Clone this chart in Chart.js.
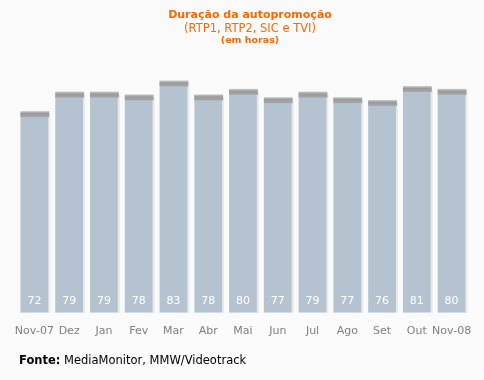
<!DOCTYPE html>
<html><head><meta charset="utf-8">
<script src="https://cdn.jsdelivr.net/npm/chart.js@4/dist/chart.umd.min.js"></script>
<style>
html,body{margin:0;padding:0;background:#fafafa;}
#wrap{position:relative;width:484px;height:380px;}
</style></head>
<body><div id="wrap"><canvas id="c" width="484" height="380"></canvas></div>
<script>
const categories = ["Nov-07","Dez","Jan","Fev","Mar","Abr","Mai","Jun","Jul","Ago","Set","Out","Nov-08"];
const values = [72,79,79,78,83,78,80,77,79,77,76,81,80];
const titleLines = ["Duração da autopromoção","(RTP1, RTP2, SIC e TVI)","(em horas)"];
const sourceLabel = "Fonte:";
const sourceText = " MediaMonitor, MMW/Videotrack";

const decor = {
  id:'decor',
  afterDatasetsDraw(chart){
    const ctx = chart.ctx;
    const meta = chart.getDatasetMeta(0);
    meta.data.forEach((bar,i)=>{
      const w = bar.width, x0 = bar.x - w/2, top = bar.y, bottom = bar.base;
      ctx.fillStyle = 'rgba(0,0,0,0.07)';
      ctx.fillRect(x0 + w, top + 2, 2, bottom - top - 2);
      const g = ctx.createLinearGradient(0, top-1, 0, top+6);
      g.addColorStop(0,'#c8c8c8');
      g.addColorStop(0.35,'#9a9a9a');
      g.addColorStop(1,'#a9aeb3');
      ctx.fillStyle = g;
      ctx.fillRect(x0, top-1, w+1, 6);
      ctx.fillStyle = '#ffffff';
      ctx.font = '11px "DejaVu Sans", Verdana, sans-serif';
      ctx.textAlign = 'center';
      ctx.textBaseline = 'middle';
      ctx.fillText(String(values[i]), bar.x, bottom - 12);
    });
  },
  afterDraw(chart){
    const ctx = chart.ctx;
    ctx.save();
    ctx.textAlign = 'center';
    ctx.textBaseline = 'middle';
    ctx.fillStyle = '#ff6600';
    ctx.font = 'bold 11px "DejaVu Sans", Verdana, sans-serif';
    ctx.fillText(titleLines[0], 250, 15);
    ctx.font = '11.5px "DejaVu Sans", Verdana, sans-serif';
    ctx.fillText(titleLines[1], 250, 29);
    ctx.font = 'bold 9.5px "DejaVu Sans", Verdana, sans-serif';
    ctx.fillText(titleLines[2], 250, 41);
    ctx.textAlign = 'left';
    ctx.fillStyle = '#000000';
    ctx.font = 'bold 11.5px "DejaVu Sans", Verdana, sans-serif';
    ctx.fillText(sourceLabel, 19, 361);
    const w = ctx.measureText(sourceLabel).width;
    ctx.font = '11.5px "DejaVu Sans", Verdana, sans-serif';
    ctx.fillText(sourceText, 19 + w, 361);
    ctx.restore();
  }
};

new Chart(document.getElementById('c'), {
  type:'bar',
  data:{labels:categories, datasets:[{data:values, backgroundColor:'#b5c3d1', borderWidth:0, barPercentage:0.8, categoryPercentage:1.0}]},
  options:{
    responsive:false, animation:false,
    layout:{padding:{left:17, right:15, top:62, bottom:38}},
    plugins:{legend:{display:false}, tooltip:{enabled:false}},
    scales:{
      x:{grid:{display:false}, border:{display:false},
         ticks:{color:'#808080', font:{family:'"DejaVu Sans", Verdana, sans-serif', size:11}, padding:4, maxRotation:0, autoSkip:false}},
      y:{display:false, min:0, max:90}
    }
  },
  plugins:[decor]
});
</script></body></html>
